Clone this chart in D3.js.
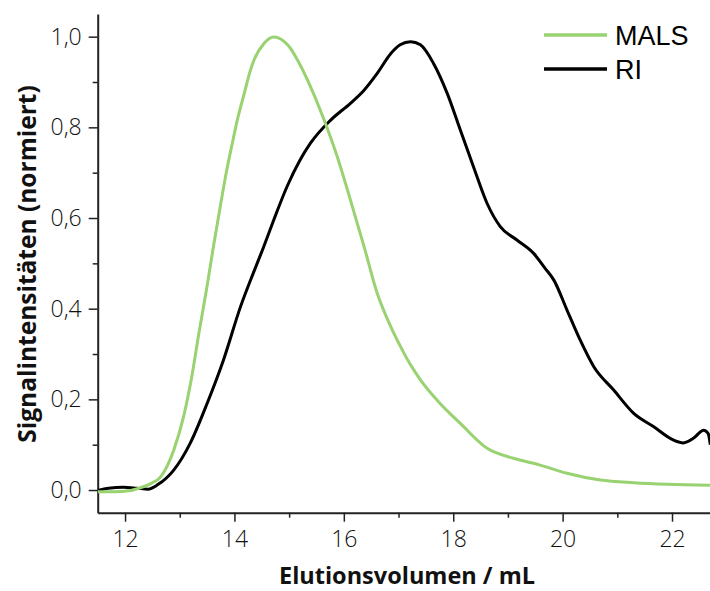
<!DOCTYPE html>
<html>
<head>
<meta charset="utf-8">
<script src="https://cdn.jsdelivr.net/npm/d3@7"></script>
<style>
html,body{margin:0;padding:0;background:#fff;}
svg{display:block;}
</style>
</head>
<body>
<div id="chart"></div>
<script>
// Data (elution volume in mL, normalized signal)
const malsX = [11.5, 11.8, 12.1, 12.28, 12.45, 12.65, 12.89, 13.07, 13.22, 13.35, 13.5, 13.62, 13.74, 13.85, 13.97, 14.05, 14.18, 14.29, 14.36, 14.54, 14.72, 14.91, 15.02, 15.15, 15.39, 15.64, 15.88, 16.12, 16.37, 16.61, 16.86, 17.03, 17.2, 17.4, 17.76, 18.13, 18.62, 19.1, 19.59, 20.08, 20.69, 21.3, 21.91, 22.7];
const malsY = [-0.004, -0.004, -0.001, 0.005, 0.013, 0.029, 0.088, 0.162, 0.25, 0.346, 0.45, 0.54, 0.625, 0.70, 0.77, 0.815, 0.875, 0.925, 0.949, 0.985, 0.999, 0.989, 0.975, 0.949, 0.890, 0.816, 0.735, 0.640, 0.537, 0.434, 0.360, 0.318, 0.28, 0.243, 0.191, 0.147, 0.092, 0.070, 0.055, 0.037, 0.022, 0.016, 0.0125, 0.0104];

const riX = [11.5, 11.7, 11.97, 12.22, 12.42, 12.6, 12.89, 13.19, 13.5, 13.8, 14.11, 14.35, 14.53, 14.72, 14.96, 15.2, 15.39, 15.76, 16.12, 16.37, 16.61, 16.86, 17.03, 17.22, 17.4, 17.64, 17.89, 18.13, 18.37, 18.62, 18.86, 19.17, 19.47, 19.68, 19.84, 20.08, 20.32, 20.57, 20.93, 21.3, 21.66, 22.03, 22.21, 22.39, 22.58, 22.66, 22.7];
const riY = [-0.001, 0.004, 0.006, 0.004, 0.002, 0.012, 0.044, 0.103, 0.191, 0.287, 0.404, 0.48, 0.535, 0.596, 0.669, 0.728, 0.765, 0.816, 0.853, 0.882, 0.919, 0.963, 0.982, 0.989, 0.982, 0.941, 0.875, 0.794, 0.713, 0.632, 0.581, 0.551, 0.522, 0.489, 0.463, 0.397, 0.331, 0.272, 0.221, 0.169, 0.140, 0.110, 0.104, 0.114, 0.132, 0.125, 0.10];

const xTicks = [12, 14, 16, 18, 20, 22];
const xMinor = [13, 15, 17, 19, 21];
const yTicks = [0, 0.2, 0.4, 0.6, 0.8, 1.0];
const yMinor = [0.1, 0.3, 0.5, 0.7, 0.9];
const seriesNames = ["MALS", "RI"];
const seriesColors = ["#98d271", "#000000"];

const W = 710, H = 591;
const pLeft = 97.7, pRight = 710.3, pTop = 14, pBottom = 512.7;

const svg = d3.select("#chart").append("svg").attr("width", W).attr("height", H);

const x = d3.scaleLinear().domain([11.5, 22.7]).range([pLeft, pRight]);
const y = d3.scaleLinear().domain([-0.05, 1.05]).range([pBottom, pTop]);

svg.append("clipPath").attr("id", "clip").append("rect")
  .attr("x", pLeft).attr("y", pTop).attr("width", pRight - pLeft).attr("height", pBottom - pTop);

const fmt = d => d3.format(".1f")(d).replace(".", ",");
const tickFont = "'Open Sans', sans-serif";

// Minor ticks
svg.append("g").attr("transform", `translate(0,${pBottom})`)
  .call(d3.axisBottom(x).tickValues(xMinor).tickSize(5).tickFormat(""))
  .call(g => g.select(".domain").remove())
  .call(g => g.selectAll("line").attr("stroke", "#222").attr("stroke-width", 1.5));
svg.append("g").attr("transform", `translate(${pLeft},0)`)
  .call(d3.axisLeft(y).tickValues(yMinor).tickSize(5).tickFormat(""))
  .call(g => g.select(".domain").remove())
  .call(g => g.selectAll("line").attr("stroke", "#222").attr("stroke-width", 1.5));

// Major axes
const xAxis = svg.append("g").attr("transform", `translate(0,${pBottom})`)
  .call(d3.axisBottom(x).tickValues(xTicks).tickSize(9).tickPadding(9).tickSizeOuter(0).tickFormat(d => d));
const yAxis = svg.append("g").attr("transform", `translate(${pLeft},0)`)
  .call(d3.axisLeft(y).tickValues(yTicks).tickSize(9).tickPadding(7).tickSizeOuter(0).tickFormat(fmt));

[xAxis, yAxis].forEach(a => {
  a.select(".domain").attr("stroke", "#222").attr("stroke-width", 2);
  a.selectAll(".tick line").attr("stroke", "#222").attr("stroke-width", 1.5);
  a.selectAll(".tick text").attr("fill", "#111")
    .style("font-family", tickFont).style("font-weight", 300).style("font-size", "23px");
});

// Lines
const line = d3.line().x(d => x(d[0])).y(d => y(d[1])).curve(d3.curveMonotoneX);
const plot = svg.append("g").attr("clip-path", "url(#clip)");
plot.append("path").datum(riX.map((v, i) => [v, riY[i]]))
  .attr("d", line).attr("fill", "none").attr("stroke", seriesColors[1]).attr("stroke-width", 3).attr("stroke-linejoin", "round");
plot.append("path").datum(malsX.map((v, i) => [v, malsY[i]]))
  .attr("d", line).attr("fill", "none").attr("stroke", seriesColors[0]).attr("stroke-width", 3).attr("stroke-linejoin", "round");

// Axis titles
svg.append("text").attr("x", 407).attr("y", 584).attr("text-anchor", "middle")
  .style("font-family", tickFont).style("font-weight", 700).style("font-size", "23.5px").attr("fill", "#111")
  .text("Elutionsvolumen / mL");
svg.append("text").attr("transform", "translate(36,264) rotate(-90)").attr("text-anchor", "middle")
  .style("font-family", tickFont).style("font-weight", 700).style("font-size", "24.5px").attr("fill", "#111")
  .text("Signalintensitäten (normiert)");

// Legend
const leg = svg.append("g");
seriesNames.forEach((n, i) => {
  const yy = 35 + i * 34;
  leg.append("line").attr("x1", 544).attr("x2", 607).attr("y1", yy).attr("y2", yy)
    .attr("stroke", seriesColors[i]).attr("stroke-width", 3.5);
  leg.append("text").attr("x", 615).attr("y", yy + 10)
    .style("font-family", "'Liberation Sans', Arial, sans-serif").style("font-size", "27px").attr("fill", "#000")
    .text(n);
});
</script>
</body>
</html>
